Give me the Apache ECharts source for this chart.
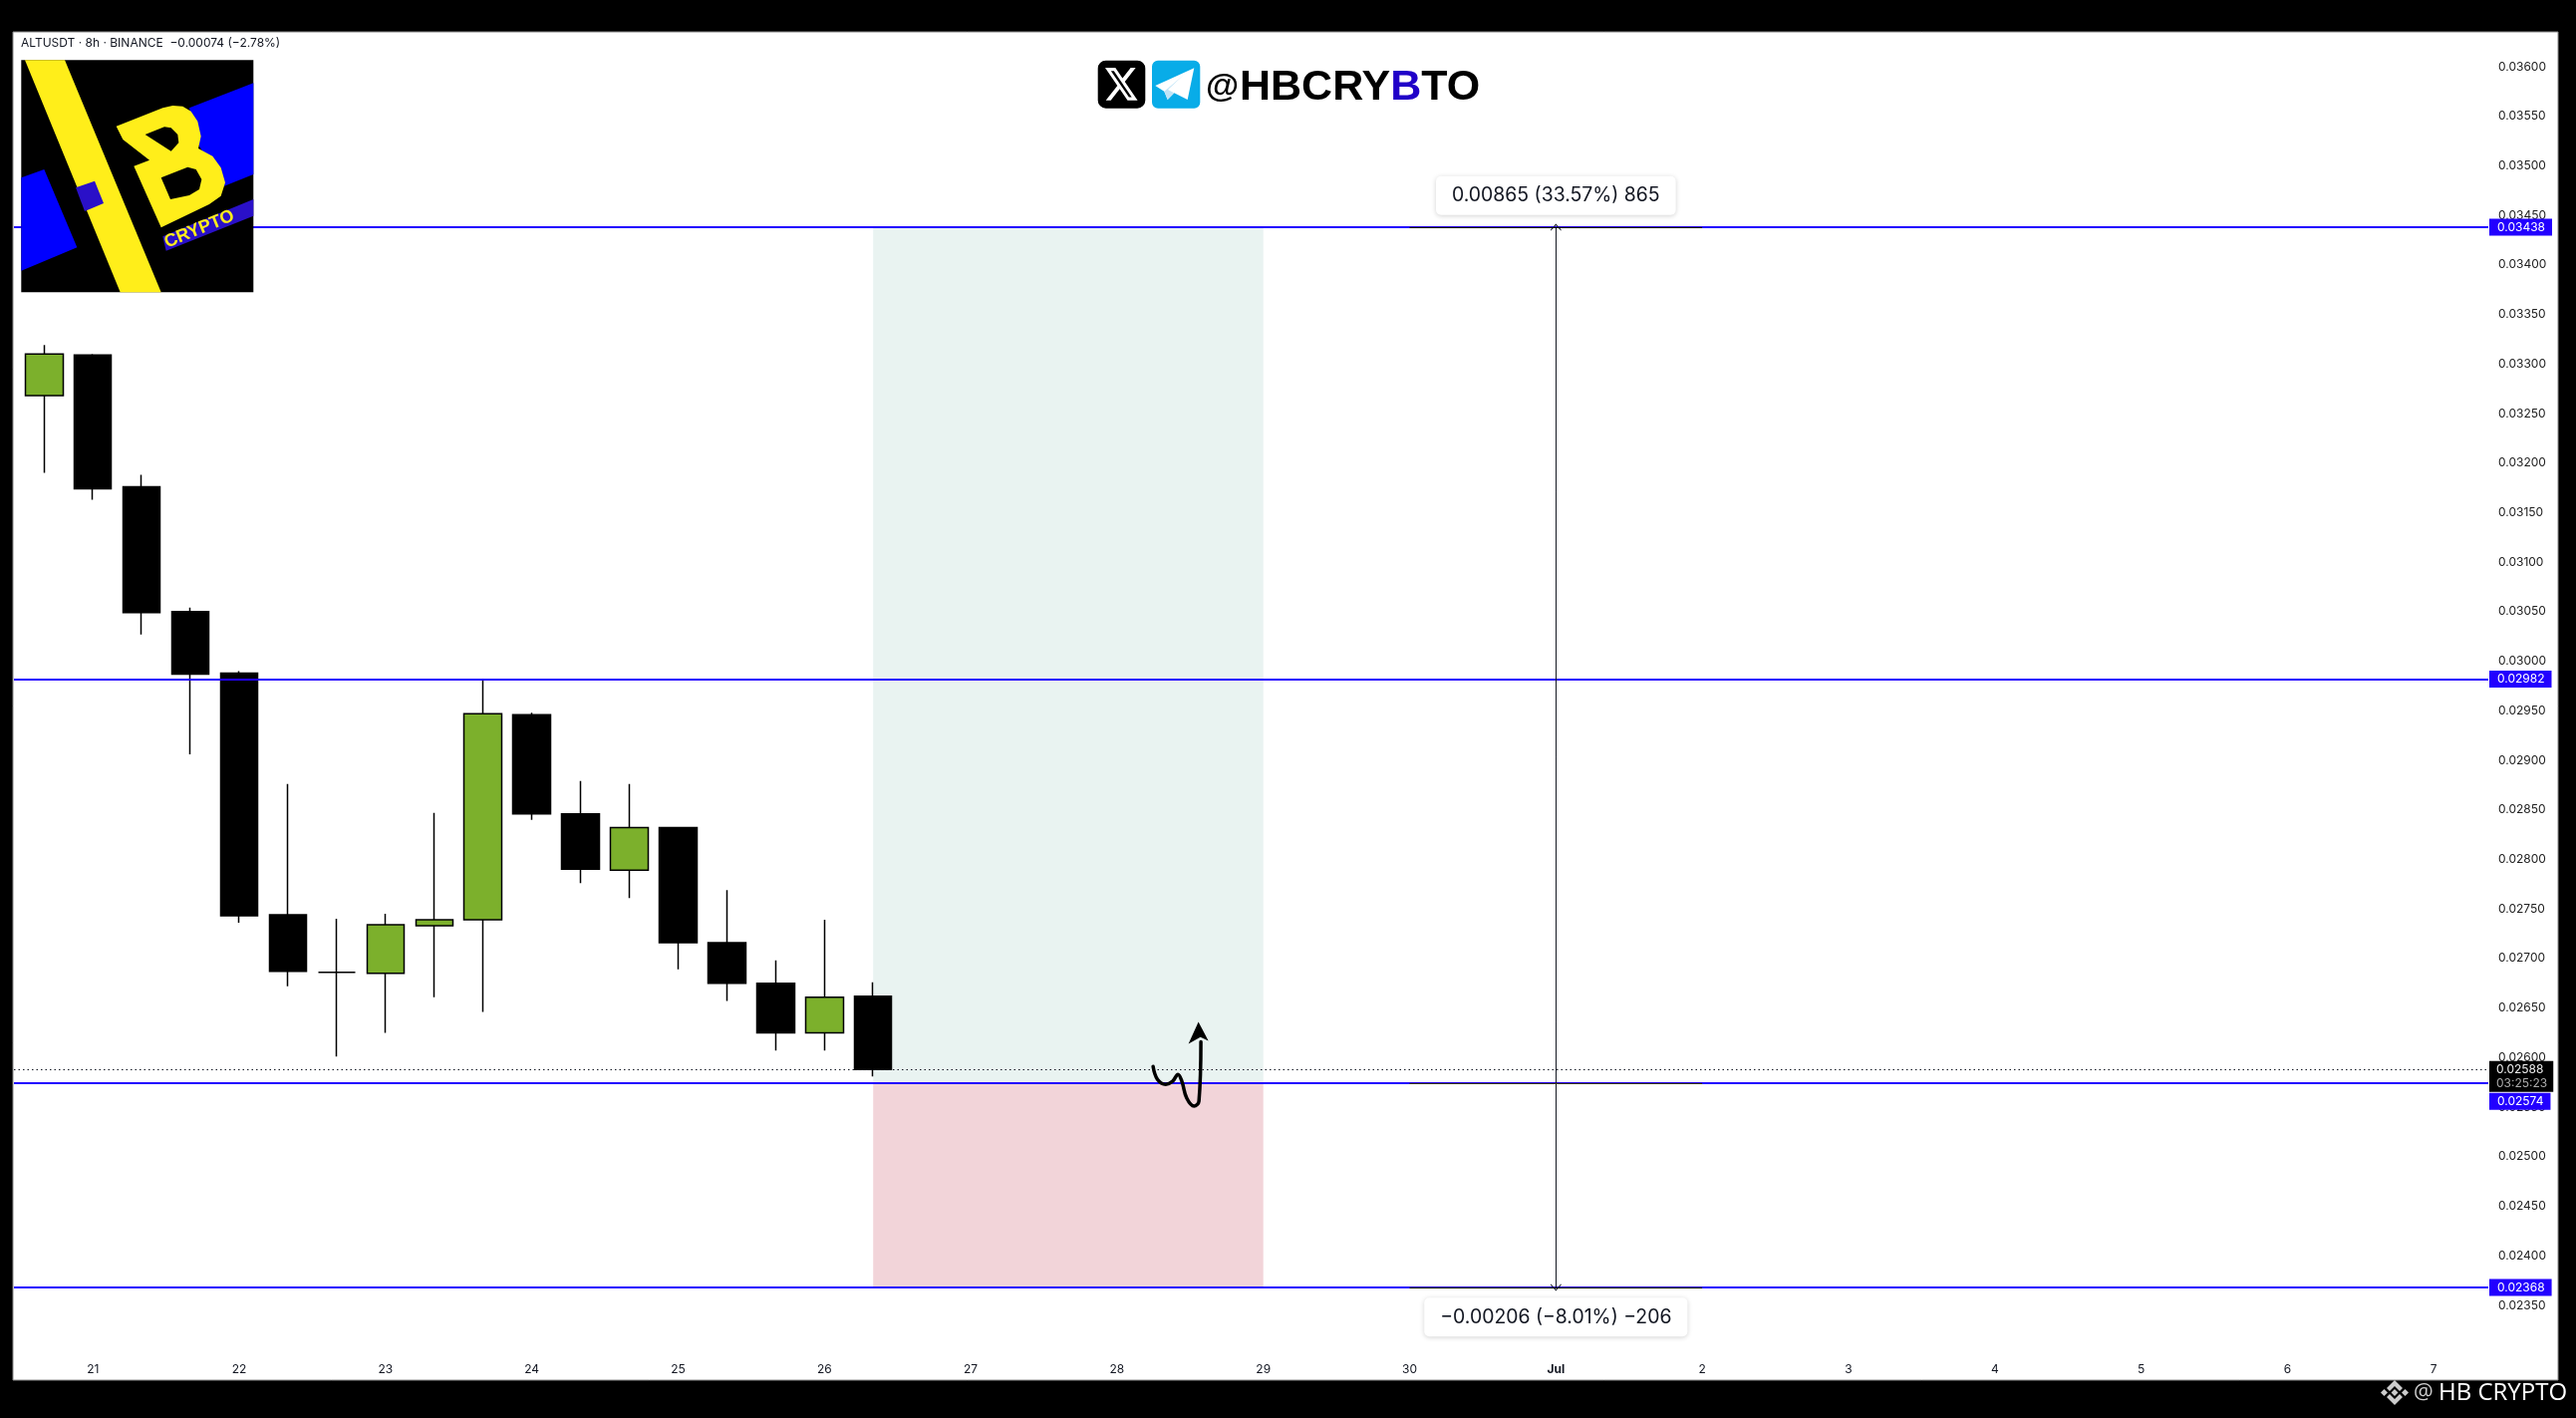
<!DOCTYPE html>
<html><head><meta charset="utf-8">
<style>html,body{margin:0;padding:0;background:#000}#c{width:2585px;height:1423px}</style>
<script src="https://cdn.jsdelivr.net/npm/echarts@6/dist/echarts.min.js"></script>
</head><body><div id="c"></div>
<script>
// x = bar index (8h bars); bar 0 is 20 Jun 16:00
const barIndex = [0,1,2,3,4,5,6,7,8,9,10,11,12,13,14,15,16,17];
const opens  = [0.03268,0.03309,0.03176,0.03050,0.02988,0.02744,0.02686,0.02685,0.02733,0.02739,0.02946,0.02846,0.02789,0.02832,0.02716,0.02675,0.02625,0.02662];
const closes = [0.03310,0.03174,0.03049,0.02987,0.02743,0.02687,0.02686,0.02734,0.02739,0.02947,0.02846,0.02790,0.02832,0.02716,0.02675,0.02625,0.02661,0.02588];
const lows   = [0.03190,0.03163,0.03027,0.02906,0.02736,0.02672,0.02601,0.02625,0.02661,0.02646,0.02840,0.02776,0.02761,0.02689,0.02657,0.02607,0.02607,0.02581];
const highs  = [0.03319,0.03310,0.03188,0.03054,0.02990,0.02876,0.02740,0.02745,0.02847,0.02981,0.02948,0.02879,0.02876,0.02832,0.02769,0.02698,0.02739,0.02676];
const levels = [0.03438,0.02982,0.02574,0.02368];
const lastPrice = 0.02588;
const countdown = '03:25:23';
const dayTickBars = [1,4,7,10,13,16,19,22,25,28,31,34,37,40,43,46,49];
const dayTickLabels = ['21','22','23','24','25','26','27','28','29','30','Jul','2','3','4','5','6','7'];
const priceTicks = [0.0360,0.0355,0.0350,0.0345,0.0340,0.0335,0.0330,0.0325,0.0320,0.0315,0.0310,0.0305,0.0300,0.0295,0.0290,0.0285,0.0280,0.0275,0.0270,0.0265,0.0260,0.0255,0.0250,0.0245,0.0240,0.0235];
const zoneBars = [17,25];
const zoneLevels = [0.03438,0.02574,0.02368];
const measureBar = 31;
const capBars = [28,34];
const measureUpLabel = '0.00865 (33.57%) 865';
const measureDownLabel = '\u22120.00206 (\u22128.01%) \u2212206';
const measureUpLabelPrice = 0.03470;
const measureDownLabelPrice = 0.02338;
const scribbleBars = [22.74,22.83,23.00,23.14,23.25,23.33,23.43,23.58,23.68,23.72];
const scribblePrices = [0.02591,0.02578,0.02573,0.02576,0.02583,0.02576,0.02559,0.02551,0.02556,0.02616];
const headerText = 'ALTUSDT \u00b7 8h \u00b7 BINANCE  \u22120.00074 (\u22122.78%)';
const xMin=-0.619, xMax=50.12;

const FONT='Inter';
const BLUE='#2200ff';
const chart=echarts.init(document.getElementById('c'),null,{renderer:'canvas'});
const fmt=v=>v.toFixed(5);
const tagFont=12;
const hline=(v,lineStyle,label)=>[{coord:[xMin,v],lineStyle,label},{coord:[xMax,v]}];
const blueStyle={color:BLUE,width:2,type:'solid'};
const tagLabel=(v,off)=>({show:true,position:'end',distance:1,formatter:fmt(v),color:'#fff',fontFamily:FONT,fontSize:tagFont,
  backgroundColor:BLUE,padding:[2.5,7,2.5,8],offset:off||[0,0]});
const chevron='path://M0,9 L10,0 L20,9 L19,10 L10,2 L1,10 Z';
const pill=(text,bar,price)=>({coord:[bar,price],symbol:'circle',symbolSize:1,itemStyle:{color:'#fff'},
  label:{show:true,position:'inside',formatter:text,color:'#131722',fontFamily:FONT,fontSize:19.4,backgroundColor:'#fff',
   padding:[10,16,10,16],borderRadius:5,shadowBlur:5,shadowColor:'rgba(0,0,0,0.18)',shadowOffsetY:1}});

const logoPts=a=>a.map(p=>[p[0]/3,p[1]/3]);
const poly=(pts,fill,z)=>({type:'polygon',z:z||100,shape:{points:logoPts(pts)},style:{fill}});
const xPts=a=>a.map(p=>[1109+(p[0]-1.254)*1.51,68+(p[1]-2.25)*1.68]);
const LB='#2a10c8';
chart.setOption({
 animation:false,backgroundColor:'#000',
 grid:{left:14,right:88,top:32,bottom:61,containLabel:false},
 xAxis:{type:'value',min:xMin,max:xMax,axisLine:{show:false},axisTick:{show:false},splitLine:{show:false},
  axisLabel:{customValues:dayTickBars,margin:6,fontFamily:FONT,fontSize:tagFont,color:'#131722',
   formatter:(v)=>{const s=dayTickLabels[dayTickBars.indexOf(v)]||'';return s==='Jul'?'{b|Jul}':s;},
   rich:{b:{fontWeight:'bold',fontFamily:FONT,fontSize:tagFont,color:'#131722'}}}},
 yAxis:{type:'value',position:'right',min:0.022976,max:0.036351,axisLine:{show:false},axisTick:{show:false},splitLine:{show:false},
  axisLabel:{customValues:priceTicks,margin:10,fontFamily:FONT,fontSize:tagFont,color:'#222',formatter:v=>fmt(v)}},
 series:[
  {name:'zones',type:'line',z:1,data:[],silent:true,
   markArea:{silent:true,data:[
    [{coord:[zoneBars[0],zoneLevels[0]],itemStyle:{color:'#e9f3f1'}},{coord:[zoneBars[1],zoneLevels[1]]}],
    [{coord:[zoneBars[0],zoneLevels[1]],itemStyle:{color:'#f2d4d9'}},{coord:[zoneBars[1],zoneLevels[2]]}]
   ]}},
  {name:'levels',type:'line',z:3,data:[],silent:true,
   markLine:{silent:true,symbol:'none',animation:false,
    data:[
     hline(levels[0],blueStyle,tagLabel(levels[0])),
     hline(levels[1],blueStyle,tagLabel(levels[1])),
     hline(levels[2],blueStyle,tagLabel(levels[2],[0,18])),
     hline(levels[3],blueStyle,tagLabel(levels[3])),
     hline(lastPrice,{color:'#131722',width:1,type:[1.5,3]},
      {show:true,position:'end',distance:1,offset:[0,7],backgroundColor:'#000',padding:[1,6,1,7],
       formatter:'{a|'+fmt(lastPrice)+'}\n{b|'+countdown+'}',
       rich:{a:{color:'#eee',fontFamily:FONT,fontSize:tagFont,lineHeight:14.5},b:{color:'#aaa',fontFamily:FONT,fontSize:tagFont,lineHeight:14.5}}})
    ]}},
  {name:'ALTUSDT',type:'candlestick',z:4,barWidth:38,silent:true,
   data:barIndex.map((b,i)=>[b,opens[i],closes[i],lows[i],highs[i]]),
   encode:{x:0,y:[1,2,3,4]},
   itemStyle:{color:'#7cb02c',color0:'#000',borderColor:'#000',borderColor0:'#000',borderWidth:1.5}},
  {name:'measure',type:'line',z:5,data:[],silent:true,
   markLine:{silent:true,animation:false,symbol:'none',label:{show:false},
    data:[
     [{coord:[measureBar,levels[0]],symbol:chevron,symbolSize:[11,7],lineStyle:{color:'#131722',width:1,type:'solid'}},
      {coord:[measureBar,levels[3]],symbol:chevron,symbolSize:[11,7]}],
     [{coord:[capBars[0],levels[0]],lineStyle:{color:'#000',width:1,type:'solid'}},{coord:[capBars[1],levels[0]]}],
     [{coord:[capBars[0],levels[2]],lineStyle:{color:'#3a3a10',width:1,type:'solid'}},{coord:[capBars[1],levels[2]]}],
     [{coord:[capBars[0],levels[3]],lineStyle:{color:'#000',width:1,type:'solid'}},{coord:[capBars[1],levels[3]]}]
    ]}},
  {name:'scribble',type:'line',z:6,silent:true,smooth:0.4,symbol:'none',
   data:scribbleBars.map((b,i)=>[b,scribblePrices[i]]),
   lineStyle:{color:'#000',width:3.5,cap:'round',join:'round'},
   markPoint:{silent:true,animation:false,data:[
    {coord:[scribbleBars[9]-0.05,scribblePrices[9]+0.00009],symbol:'path://M10,0 L20,20 L12,16 L0,23 Z',symbolSize:[20,22],itemStyle:{color:'#000'},label:{show:false}},
    pill(measureUpLabel,measureBar,measureUpLabelPrice),pill(measureDownLabel,measureBar,measureDownLabelPrice)]}}
 ],
 graphic:{elements:[
  {type:'rect',z:-5,shape:{x:13,y:32,width:2554,height:1353},style:{fill:'#fff',stroke:'#8a8a8a',lineWidth:1}},
  {type:'text',z:100,x:21,y:37,style:{text:headerText,font:'12px '+FONT,fill:'#131722'}},
  // logo
  {type:'rect',z:100,shape:{x:21.3,y:60.3,width:233,height:233},style:{fill:'#000'}},
  poly([[570,325],[763,250],[763,525],[675,560],[600,440]],'#0000ff'),
  poly([[64,535],[133,510],[232,745],[64,815]],'#0000ff'),
  poly([[75,181],[195,181],[485,880],[362,880]],'#ffee1a'),
  poly([[228,565],[285,545],[312,612],[255,636]],LB),
  poly([[350,380],[490,325],[520,318],[550,320],[575,335],[595,365],[605,410],[597,447],[640,470],[665,505],[678,550],[665,590],[630,615],[485,685],[403,500],[450,482],[370,420]],'#ffee1a'),
  poly([[437,405],[495,382],[515,385],[535,405],[538,430],[515,455]],'#000'),
  poly([[485,535],[565,503],[590,510],[607,540],[600,570],[570,588],[513,600]],'#000'),
  poly([[490,712],[763,600],[763,650],[500,755]],LB),
  {type:'text',z:101,x:200,y:230,rotation:0.39,style:{text:'CRYPTO',font:'bold 18px "Liberation Sans"',fill:'#ffee1a',align:'center',verticalAlign:'middle'}},
  // social header
  {type:'rect',z:100,shape:{x:1101.7,y:60.7,width:47.6,height:48,r:8},style:{fill:'#000'}},
  {type:'polygon',z:101,shape:{points:xPts([[1.254,2.25],[8.08,2.25],[12.793,8.481],[18.244,2.25],[21.552,2.25],[14.325,10.51],[22.827,21.75],[16.17,21.75],[10.956,14.933],[4.99,21.75],[1.68,21.75],[9.41,12.915]])},style:{fill:'#fff'}},
  {type:'polygon',z:102,shape:{points:xPts([[17.083,19.77],[18.916,19.77],[7.084,4.126],[5.117,4.126]])},style:{fill:'#000'}},
  {type:'rect',z:100,shape:{x:1156,y:60.7,width:48.3,height:48,r:6},style:{fill:'#08ace8'}},
  {type:'polygon',z:101,shape:{points:[[1159.3,86],[1198.3,68.3],[1191.7,100],[1178.3,93.3],[1171.7,100],[1168.3,91.7]]},style:{fill:'#fff'}},
  {type:'polygon',z:102,shape:{points:[[1168.3,91.7],[1171.7,100],[1178.3,93.3],[1172,90],[1188,75]]},style:{fill:'#bfe3f6'}},
  {type:'text',z:100,x:1210,y:105,style:{text:'@',font:'bold 34px "Liberation Sans"',fill:'#000',verticalAlign:'bottom'}},
  {type:'text',z:100,x:1244,y:110,style:{rich:{a:{font:'bold 43px "Liberation Sans"',fill:'#000'},b:{font:'bold 43px "Liberation Sans"',fill:'#2000c8'}},text:'{a|HBCRY}{b|B}{a|TO}',verticalAlign:'bottom'}},
  // bottom right brand
  {type:'polygon',z:100,shape:{points:[[2403,1385],[2411,1393],[2408,1396],[2403,1391],[2398,1396],[2395,1393]]},style:{fill:'#ccc'}},
  {type:'polygon',z:100,shape:{points:[[2403,1410],[2411,1402],[2408,1399],[2403,1404],[2398,1399],[2395,1402]]},style:{fill:'#ccc'}},
  {type:'polygon',z:100,shape:{points:[[2403,1394],[2406.5,1397.5],[2403,1401],[2399.5,1397.5]]},style:{fill:'#ccc'}},
  {type:'polygon',z:100,shape:{points:[[2392.5,1394],[2396,1397.5],[2392.5,1401],[2389,1397.5]]},style:{fill:'#ccc'}},
  {type:'polygon',z:100,shape:{points:[[2413.5,1394],[2417,1397.5],[2413.5,1401],[2410,1397.5]]},style:{fill:'#ccc'}},
  {type:'text',z:100,x:2422,y:1398,style:{text:'@',font:'22px "Open Sans"',fill:'#ccc',verticalAlign:'middle'}},
  {type:'text',z:100,x:2447,y:1398,style:{text:'HB CRYPTO',font:'24px "Open Sans"',fill:'#fff',verticalAlign:'middle'}}
 ]}
});
</script></body></html>
